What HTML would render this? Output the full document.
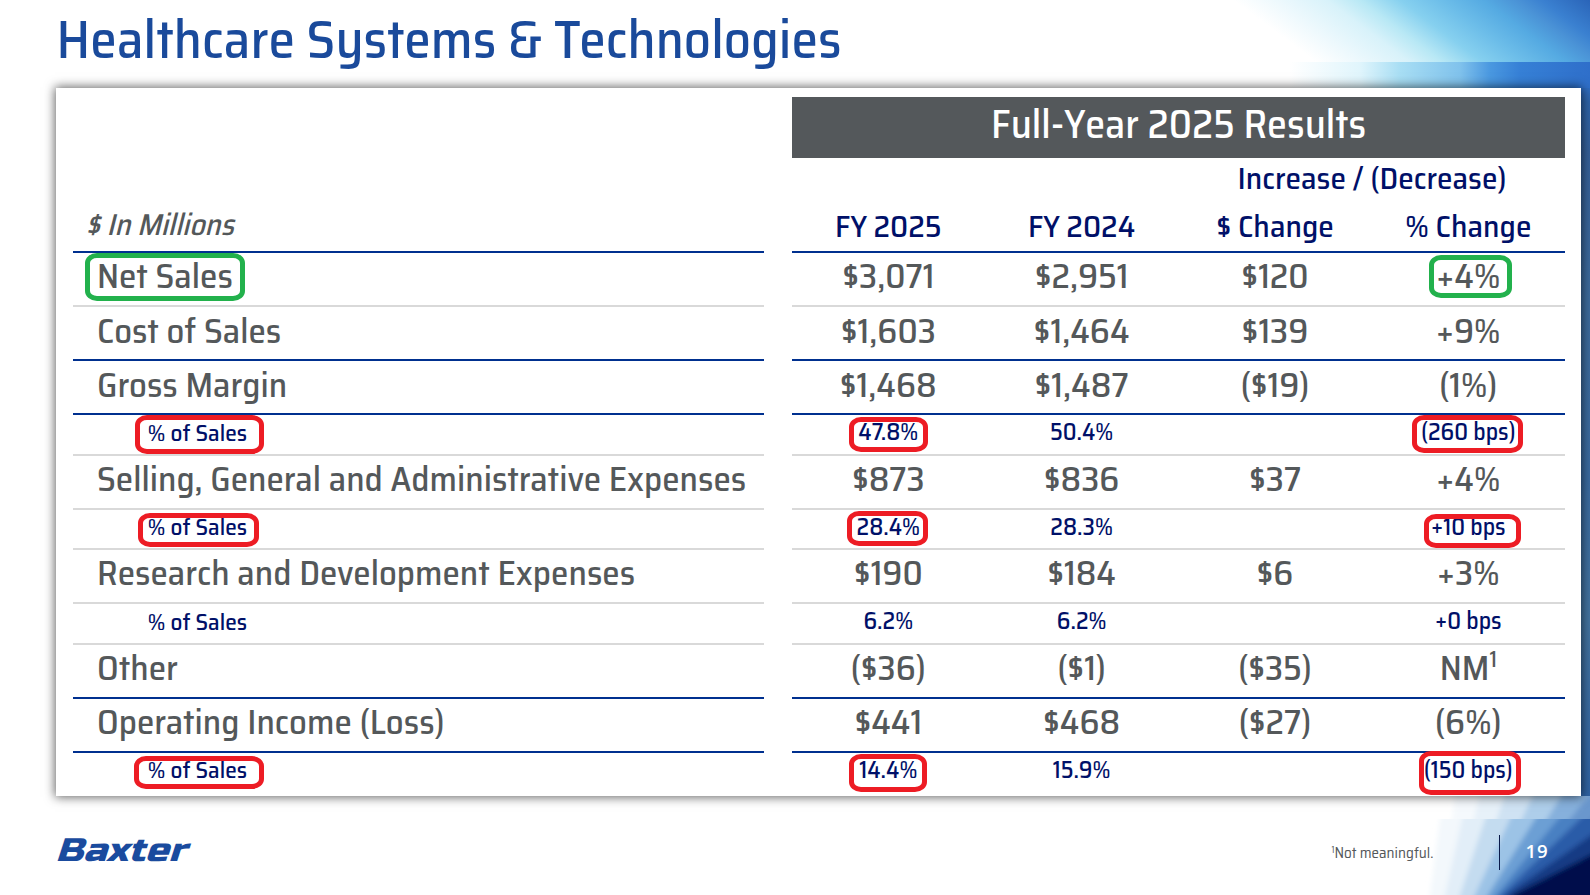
<!DOCTYPE html>
<html><head><meta charset="utf-8"><title>Healthcare Systems &amp; Technologies</title>
<style>
html,body{margin:0;padding:0;}
body{width:1590px;height:895px;position:relative;overflow:hidden;background:#fff;font-family:'Saira SemiCondensed', 'Liberation Sans Narrow', 'Liberation Sans', sans-serif;}
.t{position:absolute;white-space:nowrap;}
.c{width:600px;text-align:center;}
.t sup{font-size:0.64em;line-height:0;vertical-align:0;position:relative;top:-0.56em;}
.ln{position:absolute;height:2.2px;}
.lb{background:#00308f;}
.lg{background:#d9d9d9;}
.bx{position:absolute;box-sizing:border-box;border:5px solid;border-radius:12px / 10px;}
.bg{position:absolute;}
#tr2{left:1200px;top:61.5px;width:390px;height:40px;
  background:linear-gradient(90deg,rgba(255,255,255,0) 90px,#e0f5fc 160px,#a8def4 200px,#80c2ec 260px,#4a98e0 290px,#3680d6 320px,#2f6fca 390px);}
#rs{left:1575px;top:88px;width:15px;height:710px;background:linear-gradient(180deg,#2f6cc0 0%,#2e63a8 2%,#355f98 9%,#3d6b9c 30%,#3a6a9f 55%,#43739f 75%,#2f62a2 100%);}
#panel{position:absolute;left:56px;top:88px;width:1525px;height:708px;background:#fff;
  box-shadow:0 0 10px 1px rgba(0,0,0,0.62);}
#bar{position:absolute;left:791.6px;top:97.3px;width:773.4px;height:60.3px;background:#54585b;}
#logo{position:absolute;left:65.3px;top:831.4px;font-family:'Russo One','Liberation Sans',sans-serif;font-size:32.6px;line-height:40px;color:#1a4b9e;
  transform:scaleX(1.2) skewX(-15deg);transform-origin:0 0;white-space:nowrap;}
#fn{position:absolute;left:1331.5px;color:#54585a;font-size:15.1px;line-height:15.1px;white-space:nowrap;font-weight:400;}
#fn sup{font-size:0.6em;vertical-align:0;position:relative;top:-0.55em;}
#vl{position:absolute;left:1498.9px;top:834.8px;width:1.6px;height:35.5px;background:#0a1a4a;}
#pg{position:absolute;color:#fff;font-family:'Open Sans','Liberation Sans',sans-serif;font-size:18.6px;line-height:20px;font-weight:600;letter-spacing:0.8px;white-space:nowrap;}
.fb .t,.fb #fn{transform:scaleX(0.9);transform-origin:0 50%;}
.fb .c{transform-origin:50% 50%;}
.fblogo #logo{font-weight:bold;}
</style></head><body>
<svg class="bg" style="left:1200px;top:0" width="390" height="62" viewBox="1200 0 390 62">
<defs><linearGradient id="gtr" gradientUnits="userSpaceOnUse" x1="1200" y1="0" x2="1340.4" y2="-187.2">
<stop offset="0.085" stop-color="#fff"/><stop offset="0.192" stop-color="#eef9fd"/><stop offset="0.325" stop-color="#d8f2fa"/><stop offset="0.41" stop-color="#b8e8f5"/><stop offset="0.513" stop-color="#86d0ef"/><stop offset="0.62" stop-color="#6cbde9"/><stop offset="0.726" stop-color="#55aae2"/><stop offset="0.812" stop-color="#4a92d6"/><stop offset="0.876" stop-color="#3a80d0"/><stop offset="1" stop-color="#2a64b8"/></linearGradient></defs>
<rect x="1200" y="0" width="390" height="62" fill="url(#gtr)"/>
</svg>
<div class="bg" id="tr2"></div>
<div class="bg" id="rs"></div>
<svg class="bg" style="left:1380px;top:819px" width="210" height="76" viewBox="1380 819 210 76"><defs><filter id="bl819" filterUnits="userSpaceOnUse" x="1360" y="740" width="280" height="200"><feGaussianBlur stdDeviation="2.4"/></filter></defs><g filter="url(#bl819)"><polygon fill="#f3f8fc" points="1426.7,920.0 1447.8,760.0 1620.0,760.0 1620.0,920.0"/>
<polygon fill="#e2eef8" points="1439.4,920.0 1475.2,760.0 1620.0,760.0 1620.0,920.0"/>
<polygon fill="#c4dcf0" points="1451.8,920.0 1504.4,760.0 1620.0,760.0 1620.0,920.0"/>
<polygon fill="#9cc3e6" points="1463.5,920.0 1537.2,760.0 1620.0,760.0 1620.0,920.0"/>
<polygon fill="#6c9fd4" points="1472.5,920.0 1571.5,760.0 1620.0,760.0 1620.0,920.0"/>
<polygon fill="#4a80c2" points="1475.6,920.0 1606.1,760.0 1620.0,760.0 1620.0,920.0"/>
<polygon fill="#2c5ca8" points="1475.0,920.0 1641.3,760.0 1620.0,760.0 1620.0,920.0"/>
<polygon fill="#123a84" points="1500.0,920 1506.0,895 1620,815 1620,920"/>
<polygon fill="#03114c" points="1506.0,920 1513.0,895 1620,840 1620,920"/></g></svg>
<svg class="bg" style="left:1380px;top:796px" width="210" height="23" viewBox="1380 796 210 23"><defs><filter id="bl796" filterUnits="userSpaceOnUse" x="1360" y="740" width="280" height="200"><feGaussianBlur stdDeviation="2.4"/></filter></defs><g filter="url(#bl796)"><polygon fill="#f5f9fd" points="1438.7,920.0 1459.8,760.0 1620.0,760.0 1620.0,920.0"/>
<polygon fill="#e7f1f9" points="1451.4,920.0 1487.2,760.0 1620.0,760.0 1620.0,920.0"/>
<polygon fill="#cfe2f3" points="1463.8,920.0 1516.4,760.0 1620.0,760.0 1620.0,920.0"/>
<polygon fill="#aeceea" points="1475.5,920.0 1549.2,760.0 1620.0,760.0 1620.0,920.0"/>
<polygon fill="#86b0dc" points="1484.5,920.0 1583.5,760.0 1620.0,760.0 1620.0,920.0"/>
<polygon fill="#6b97cd" points="1487.6,920.0 1618.1,760.0 1620.0,760.0 1620.0,920.0"/>
<polygon fill="#5279b8" points="1487.0,920.0 1653.3,760.0 1620.0,760.0 1620.0,920.0"/>
<polygon fill="#3d5d9a" points="1512.0,920 1518.0,895 1620,815 1620,920"/>
<polygon fill="#303c6c" points="1518.0,920 1525.0,895 1620,840 1620,920"/></g></svg>
<div id="panel"></div>
<div id="bar"></div>
<div class="ln lb" style="top:251.2px;left:73px;width:691.2px"></div>
<div class="ln lb" style="top:251.2px;left:791.6px;width:773.4px"></div>
<div class="ln lg" style="top:305.3px;left:73px;width:691.2px"></div>
<div class="ln lg" style="top:305.3px;left:791.6px;width:773.4px"></div>
<div class="ln lb" style="top:359.1px;left:73px;width:691.2px"></div>
<div class="ln lb" style="top:359.1px;left:791.6px;width:773.4px"></div>
<div class="ln lb" style="top:413.1px;left:73px;width:691.2px"></div>
<div class="ln lb" style="top:413.1px;left:791.6px;width:773.4px"></div>
<div class="ln lg" style="top:453.5px;left:73px;width:691.2px"></div>
<div class="ln lg" style="top:453.5px;left:791.6px;width:773.4px"></div>
<div class="ln lg" style="top:507.7px;left:73px;width:691.2px"></div>
<div class="ln lg" style="top:507.7px;left:791.6px;width:773.4px"></div>
<div class="ln lg" style="top:547.9px;left:73px;width:691.2px"></div>
<div class="ln lg" style="top:547.9px;left:791.6px;width:773.4px"></div>
<div class="ln lg" style="top:602.1px;left:73px;width:691.2px"></div>
<div class="ln lg" style="top:602.1px;left:791.6px;width:773.4px"></div>
<div class="ln lg" style="top:642.5px;left:73px;width:691.2px"></div>
<div class="ln lg" style="top:642.5px;left:791.6px;width:773.4px"></div>
<div class="ln lb" style="top:696.7px;left:73px;width:691.2px"></div>
<div class="ln lb" style="top:696.7px;left:791.6px;width:773.4px"></div>
<div class="ln lb" style="top:750.5px;left:73px;width:691.2px"></div>
<div class="ln lb" style="top:750.5px;left:791.6px;width:773.4px"></div>
<div class="t" style="left:56.6px;top:13.1px;font-size:53.6px;line-height:53.6px;color:#1a4a9b;font-weight:500;">Healthcare Systems &amp; Technologies</div>
<div class="t c" style="left:878.6px;top:103.7px;font-size:40.2px;line-height:40.2px;color:#ffffff;font-weight:500;">Full-Year 2025 Results</div>
<div class="t c" style="left:1072.0px;top:162.7px;font-size:31.4px;line-height:31.4px;color:#001068;font-weight:500;">Increase / (Decrease)</div>
<div class="t" style="left:85.5px;top:210.4px;font-size:30.2px;line-height:30.2px;color:#54585a;font-weight:500;font-style:italic;">$ In Millions</div>
<div class="t c" style="left:588.3px;top:210.8px;font-size:31.4px;line-height:31.4px;color:#001068;font-weight:500;">FY 2025</div>
<div class="t c" style="left:781.6px;top:210.8px;font-size:31.4px;line-height:31.4px;color:#001068;font-weight:500;">FY 2024</div>
<div class="t c" style="left:975.0px;top:210.8px;font-size:31.4px;line-height:31.4px;color:#001068;font-weight:500;">$ Change</div>
<div class="t c" style="left:1168.3px;top:210.8px;font-size:31.4px;line-height:31.4px;color:#001068;font-weight:500;">% Change</div>
<div class="t" style="left:97.0px;top:257.7px;font-size:35.1px;line-height:35.1px;color:#54585a;font-weight:500;">Net Sales</div>
<div class="t c" style="left:588.3px;top:257.7px;font-size:35.1px;line-height:35.1px;color:#54585a;font-weight:500;">$3,071</div>
<div class="t c" style="left:781.6px;top:257.7px;font-size:35.1px;line-height:35.1px;color:#54585a;font-weight:500;">$2,951</div>
<div class="t c" style="left:975.0px;top:257.7px;font-size:35.1px;line-height:35.1px;color:#54585a;font-weight:500;">$120</div>
<div class="t c" style="left:1168.3px;top:257.7px;font-size:35.1px;line-height:35.1px;color:#54585a;font-weight:500;">+4%</div>
<div class="t" style="left:97.0px;top:312.7px;font-size:35.1px;line-height:35.1px;color:#54585a;font-weight:500;">Cost of Sales</div>
<div class="t c" style="left:588.3px;top:312.7px;font-size:35.1px;line-height:35.1px;color:#54585a;font-weight:500;">$1,603</div>
<div class="t c" style="left:781.6px;top:312.7px;font-size:35.1px;line-height:35.1px;color:#54585a;font-weight:500;">$1,464</div>
<div class="t c" style="left:975.0px;top:312.7px;font-size:35.1px;line-height:35.1px;color:#54585a;font-weight:500;">$139</div>
<div class="t c" style="left:1168.3px;top:312.7px;font-size:35.1px;line-height:35.1px;color:#54585a;font-weight:500;">+9%</div>
<div class="t" style="left:97.0px;top:366.5px;font-size:35.1px;line-height:35.1px;color:#54585a;font-weight:500;">Gross Margin</div>
<div class="t c" style="left:588.3px;top:366.5px;font-size:35.1px;line-height:35.1px;color:#54585a;font-weight:500;">$1,468</div>
<div class="t c" style="left:781.6px;top:366.5px;font-size:35.1px;line-height:35.1px;color:#54585a;font-weight:500;">$1,487</div>
<div class="t c" style="left:975.0px;top:366.5px;font-size:35.1px;line-height:35.1px;color:#54585a;font-weight:500;">($19)</div>
<div class="t c" style="left:1168.3px;top:366.5px;font-size:35.1px;line-height:35.1px;color:#54585a;font-weight:500;">(1%)</div>
<div class="t" style="left:147.8px;top:420.8px;font-size:23.4px;line-height:23.4px;color:#001068;font-weight:500;">% of Sales</div>
<div class="t c" style="left:588.3px;top:420.3px;font-size:23.9px;line-height:23.9px;color:#001068;font-weight:500;">47.8%</div>
<div class="t c" style="left:781.6px;top:420.3px;font-size:23.9px;line-height:23.9px;color:#001068;font-weight:500;">50.4%</div>
<div class="t c" style="left:1168.3px;top:420.3px;font-size:23.9px;line-height:23.9px;color:#001068;font-weight:500;">(260 bps)</div>
<div class="t" style="left:97.0px;top:460.9px;font-size:35.1px;line-height:35.1px;color:#54585a;font-weight:500;">Selling, General and Administrative Expenses</div>
<div class="t c" style="left:588.3px;top:460.9px;font-size:35.1px;line-height:35.1px;color:#54585a;font-weight:500;">$873</div>
<div class="t c" style="left:781.6px;top:460.9px;font-size:35.1px;line-height:35.1px;color:#54585a;font-weight:500;">$836</div>
<div class="t c" style="left:975.0px;top:460.9px;font-size:35.1px;line-height:35.1px;color:#54585a;font-weight:500;">$37</div>
<div class="t c" style="left:1168.3px;top:460.9px;font-size:35.1px;line-height:35.1px;color:#54585a;font-weight:500;">+4%</div>
<div class="t" style="left:147.8px;top:515.4px;font-size:23.4px;line-height:23.4px;color:#001068;font-weight:500;">% of Sales</div>
<div class="t c" style="left:588.3px;top:514.9px;font-size:23.9px;line-height:23.9px;color:#001068;font-weight:500;">28.4%</div>
<div class="t c" style="left:781.6px;top:514.9px;font-size:23.9px;line-height:23.9px;color:#001068;font-weight:500;">28.3%</div>
<div class="t c" style="left:1168.3px;top:514.9px;font-size:23.9px;line-height:23.9px;color:#001068;font-weight:500;">+10 bps</div>
<div class="t" style="left:97.0px;top:555.3px;font-size:35.1px;line-height:35.1px;color:#54585a;font-weight:500;">Research and Development Expenses</div>
<div class="t c" style="left:588.3px;top:555.3px;font-size:35.1px;line-height:35.1px;color:#54585a;font-weight:500;">$190</div>
<div class="t c" style="left:781.6px;top:555.3px;font-size:35.1px;line-height:35.1px;color:#54585a;font-weight:500;">$184</div>
<div class="t c" style="left:975.0px;top:555.3px;font-size:35.1px;line-height:35.1px;color:#54585a;font-weight:500;">$6</div>
<div class="t c" style="left:1168.3px;top:555.3px;font-size:35.1px;line-height:35.1px;color:#54585a;font-weight:500;">+3%</div>
<div class="t" style="left:147.8px;top:609.8px;font-size:23.4px;line-height:23.4px;color:#001068;font-weight:500;">% of Sales</div>
<div class="t c" style="left:588.3px;top:609.3px;font-size:23.9px;line-height:23.9px;color:#001068;font-weight:500;">6.2%</div>
<div class="t c" style="left:781.6px;top:609.3px;font-size:23.9px;line-height:23.9px;color:#001068;font-weight:500;">6.2%</div>
<div class="t c" style="left:1168.3px;top:609.3px;font-size:23.9px;line-height:23.9px;color:#001068;font-weight:500;">+0 bps</div>
<div class="t" style="left:97.0px;top:649.9px;font-size:35.1px;line-height:35.1px;color:#54585a;font-weight:500;">Other</div>
<div class="t c" style="left:588.3px;top:649.9px;font-size:35.1px;line-height:35.1px;color:#54585a;font-weight:500;">($36)</div>
<div class="t c" style="left:781.6px;top:649.9px;font-size:35.1px;line-height:35.1px;color:#54585a;font-weight:500;">($1)</div>
<div class="t c" style="left:975.0px;top:649.9px;font-size:35.1px;line-height:35.1px;color:#54585a;font-weight:500;">($35)</div>
<div class="t c" style="left:1168.3px;top:649.9px;font-size:35.1px;line-height:35.1px;color:#54585a;font-weight:500;">NM<sup>1</sup></div>
<div class="t" style="left:97.0px;top:704.1px;font-size:35.1px;line-height:35.1px;color:#54585a;font-weight:500;">Operating Income (Loss)</div>
<div class="t c" style="left:588.3px;top:704.1px;font-size:35.1px;line-height:35.1px;color:#54585a;font-weight:500;">$441</div>
<div class="t c" style="left:781.6px;top:704.1px;font-size:35.1px;line-height:35.1px;color:#54585a;font-weight:500;">$468</div>
<div class="t c" style="left:975.0px;top:704.1px;font-size:35.1px;line-height:35.1px;color:#54585a;font-weight:500;">($27)</div>
<div class="t c" style="left:1168.3px;top:704.1px;font-size:35.1px;line-height:35.1px;color:#54585a;font-weight:500;">(6%)</div>
<div class="t" style="left:147.8px;top:758.2px;font-size:23.4px;line-height:23.4px;color:#001068;font-weight:500;">% of Sales</div>
<div class="t c" style="left:588.3px;top:757.7px;font-size:23.9px;line-height:23.9px;color:#001068;font-weight:500;">14.4%</div>
<div class="t c" style="left:781.6px;top:757.7px;font-size:23.9px;line-height:23.9px;color:#001068;font-weight:500;">15.9%</div>
<div class="t c" style="left:1168.3px;top:757.7px;font-size:23.9px;line-height:23.9px;color:#001068;font-weight:500;">(150 bps)</div>
<div class="bx" style="left:85.0px;top:253.4px;width:159.7px;height:47.4px;border-color:#22b14c"></div>
<div class="bx" style="left:1428.9px;top:255.1px;width:83.0px;height:42.6px;border-color:#22b14c"></div>
<div class="bx" style="left:135.2px;top:415.2px;width:128.5px;height:38.7px;border-color:#ed1c24"></div>
<div class="bx" style="left:849.1px;top:417.0px;width:78.6px;height:34.8px;border-color:#ed1c24"></div>
<div class="bx" style="left:1412.2px;top:415.2px;width:110.5px;height:37.6px;border-color:#ed1c24"></div>
<div class="bx" style="left:138.0px;top:513.3px;width:120.8px;height:34.2px;border-color:#ed1c24"></div>
<div class="bx" style="left:846.9px;top:511.0px;width:81.0px;height:34.9px;border-color:#ed1c24"></div>
<div class="bx" style="left:1424.0px;top:514.1px;width:97.0px;height:33.5px;border-color:#ed1c24"></div>
<div class="bx" style="left:134.0px;top:756.3px;width:129.7px;height:32.3px;border-color:#ed1c24"></div>
<div class="bx" style="left:849.1px;top:754.1px;width:77.9px;height:37.8px;border-color:#ed1c24"></div>
<div class="bx" style="left:1419.1px;top:750.9px;width:101.9px;height:44.0px;border-color:#ed1c24"></div>
<div id="logo">Baxter</div>
<div id="fn" style="top:845.8px"><sup>1</sup>Not meaningful.</div>
<div id="vl"></div>
<div id="pg" style="left:1525.5px;top:841px">19</div>
<script>
(function(){
  try {
    var c = document.createElement('canvas').getContext('2d');
    function has(f){
      var t = 'Healthcare Systems & Technologies 0123';
      c.font = '100px monospace'; var a = c.measureText(t).width;
      c.font = '100px "' + f + '", monospace'; var b = c.measureText(t).width;
      c.font = '100px serif'; var d = c.measureText(t).width;
      c.font = '100px "' + f + '", serif'; var e = c.measureText(t).width;
      return a !== b || d !== e;
    }
    if (!has('Saira SemiCondensed')) document.body.className += ' fb';
    if (!has('Russo One')) document.body.className += ' fblogo';
  } catch (err) {}
})();
</script>
</body></html>
